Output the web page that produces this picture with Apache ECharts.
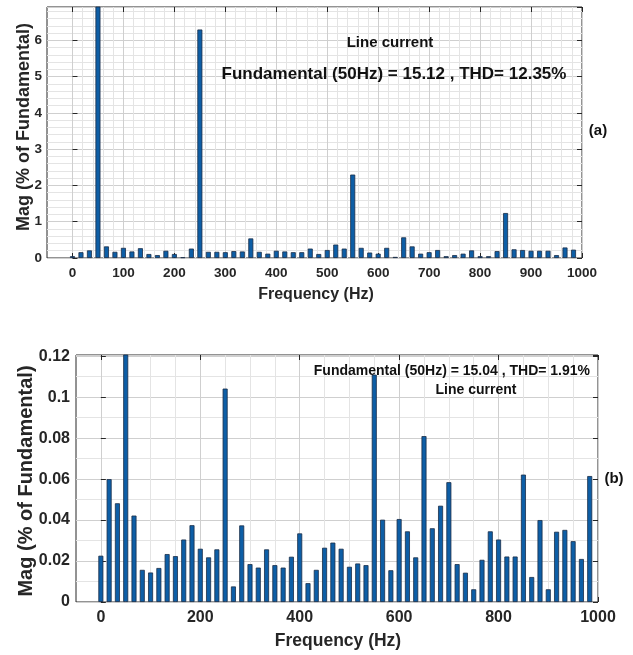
<!DOCTYPE html>
<html>
<head>
<meta charset="utf-8">
<script src="https://cdn.jsdelivr.net/npm/echarts@6/dist/echarts.min.js"></script>
<style>
html,body{margin:0;padding:0;background:#fff;}
#c{width:633px;height:655px;}
</style>
</head>
<body>
<div id="c"></div>
<script>
// Frequency bins (Hz) – 50/3 Hz resolution
var freqs = [0, 16.67, 33.33, 50, 66.67, 83.33, 100, 116.67, 133.33, 150,
  166.67, 183.33, 200, 216.67, 233.33, 250, 266.67, 283.33, 300, 316.67,
  333.33, 350, 366.67, 383.33, 400, 416.67, 433.33, 450, 466.67, 483.33,
  500, 516.67, 533.33, 550, 566.67, 583.33, 600, 616.67, 633.33, 650,
  666.67, 683.33, 700, 716.67, 733.33, 750, 766.67, 783.33, 800, 816.67,
  833.33, 850, 866.67, 883.33, 900, 916.67, 933.33, 950, 966.67, 983.33];

// (a) magnitudes, % of fundamental
var magA = [0.05, 0.16, 0.21, 100, 0.32, 0.17, 0.28, 0.18, 0.27, 0.11,
  0.08, 0.20, 0.11, 0.02, 0.26, 6.30, 0.17, 0.17, 0.16, 0.19,
  0.18, 0.54, 0.17, 0.12, 0.20, 0.18, 0.16, 0.16, 0.26, 0.11,
  0.22, 0.37, 0.26, 2.30, 0.28, 0.15, 0.12, 0.28, 0.03, 0.57,
  0.32, 0.12, 0.16, 0.22, 0.05, 0.08, 0.12, 0.21, 0.05, 0.05,
  0.19, 1.24, 0.24, 0.22, 0.20, 0.20, 0.20, 0.08, 0.29, 0.23];

// (b) magnitudes, % of fundamental
var magB = [0.0226, 0.0600, 0.0482, 100, 0.0422, 0.0157, 0.0144, 0.0166, 0.0234, 0.0224,
  0.0305, 0.0375, 0.0260, 0.0218, 0.0257, 0.1042, 0.0076, 0.0374, 0.0185, 0.0168,
  0.0257, 0.0180, 0.0168, 0.0221, 0.0335, 0.0092, 0.0157, 0.0265, 0.0290, 0.0260,
  0.0172, 0.0188, 0.0180, 0.1110, 0.0402, 0.0155, 0.0405, 0.0345, 0.0218, 0.0810,
  0.0360, 0.0470, 0.0585, 0.0185, 0.0143, 0.0062, 0.0206, 0.0345, 0.0305, 0.0222,
  0.0222, 0.0622, 0.0122, 0.0400, 0.0062, 0.0343, 0.0352, 0.0297, 0.0210, 0.0615];

var xTicksA = {min: 0, max: 1000, interval: 100};
var xTicksB = {min: 0, max: 1000, interval: 200};
var yA = {min: 0, max: 6.92, interval: 1};
var yB = {min: 0, max: 0.1206, interval: 0.02};

var FONT = '"Liberation Sans", Arial, sans-serif';
var TXT = '#262626';
var BAR = '#0d5ea6';
var EDGE = '#1a2d47';
var MAJ = '#cfcfcf';
var MIN = '#e4e4e4';

function pairs(v){ return freqs.map(function(f,i){ return [f, v[i]]; }); }
function plain(v){ return String(Math.round(v * 1000) / 1000); }

// grid geometry
var gA = {left: 47, top: 7, right: 51, height: 251};
var wA = 633 - gA.left - gA.right;
var gB = {left: 76, top: 355, right: 35, height: 247};
var wB = 633 - gB.left - gB.right;
var offA = wA * 50 / 1050, offB = wB * 50 / 1050;

var chart = echarts.init(document.getElementById('c'), null, {renderer: 'canvas'});

function yAxisMain(grid, y, fs, minorN, margin){
  return {type: 'value', gridIndex: grid, min: y.min, max: y.max, interval: y.interval,
    axisLine: {show: false},
    axisTick: {show: true, inside: true, length: 5, lineStyle: {color: TXT}},
    axisLabel: {show: true, color: TXT, fontFamily: FONT, fontWeight: 'bold', fontSize: fs, margin: margin, showMaxLabel: false, formatter: plain},
    splitLine: {show: true, lineStyle: {color: MAJ, width: 1}},
    minorTick: {show: false, splitNumber: minorN},
    minorSplitLine: {show: true, lineStyle: {color: MIN, width: 1}}};
}
function yAxisRight(grid, y){
  return {type: 'value', gridIndex: grid, position: 'right', min: y.min, max: y.max, interval: y.interval,
    axisLine: {show: false}, axisLabel: {show: false}, splitLine: {show: false},
    axisTick: {show: true, inside: true, length: 5, lineStyle: {color: TXT}}};
}
function xAxisHidden(grid){
  return {type: 'value', gridIndex: grid, min: -50, max: 1000, show: false};
}
function xAxisMain(grid, t, fs, minorN, margin){
  return {type: 'value', gridIndex: grid, position: 'bottom', min: t.min, max: t.max, interval: t.interval,
    axisLine: {show: false},
    axisTick: {show: true, inside: true, length: 5, lineStyle: {color: TXT}},
    axisLabel: {color: TXT, fontFamily: FONT, fontWeight: 'bold', fontSize: fs, margin: margin, formatter: plain},
    splitLine: {show: true, lineStyle: {color: MAJ, width: 1}},
    minorTick: {show: false, splitNumber: minorN},
    minorSplitLine: {show: true, lineStyle: {color: MIN, width: 1}}};
}
function xAxisTop(grid, t){
  return {type: 'value', gridIndex: grid, position: 'top', min: t.min, max: t.max, interval: t.interval,
    axisLine: {show: false}, axisLabel: {show: false}, splitLine: {show: false},
    axisTick: {show: true, inside: true, length: 5, lineStyle: {color: TXT}}};
}

var option = {
  animation: false,
  backgroundColor: '#fff',
  grid: [
    {left: gA.left, top: gA.top, right: gA.right, height: gA.height, show: true, borderColor: TXT, borderWidth: 1, backgroundColor: 'transparent'},
    {left: gA.left + offA, top: gA.top, right: gA.right, height: gA.height},
    {left: gB.left, top: gB.top, right: gB.right, height: gB.height, show: true, borderColor: TXT, borderWidth: 1, backgroundColor: 'transparent'},
    {left: gB.left + offB, top: gB.top, right: gB.right, height: gB.height}
  ],
  xAxis: [
    xAxisHidden(0),
    xAxisMain(1, xTicksA, 13.5, 5, 8),
    xAxisTop(1, xTicksA),
    xAxisHidden(2),
    xAxisMain(3, xTicksB, 16, 4, 8),
    xAxisTop(3, xTicksB)
  ],
  yAxis: [
    yAxisMain(0, yA, 13.5, 5, 5),
    yAxisRight(0, yA),
    {type: 'value', gridIndex: 1, min: yA.min, max: yA.max, show: false},
    yAxisMain(2, yB, 16, 2, 6),
    yAxisRight(2, yB),
    {type: 'value', gridIndex: 3, min: yB.min, max: yB.max, show: false}
  ],
  series: [
    {type: 'bar', xAxisIndex: 0, yAxisIndex: 0, data: pairs(magA), barWidth: 5, clip: true,
      itemStyle: {color: BAR, borderColor: EDGE, borderWidth: 0.8}, z: 5},
    {type: 'bar', xAxisIndex: 3, yAxisIndex: 3, data: pairs(magB), barWidth: 5, clip: true,
      itemStyle: {color: BAR, borderColor: EDGE, borderWidth: 0.8}, z: 5}
  ],
  graphic: {
    elements: [
      {type: 'text', z: 100, x: 390, y: 43, style: {text: 'Line current', font: 'bold 15px ' + FONT, fill: '#111', align: 'center', verticalAlign: 'middle'}},
      {type: 'text', z: 100, x: 394, y: 74, style: {text: 'Fundamental (50Hz) = 15.12 , THD= 12.35%', font: 'bold 17px ' + FONT, fill: '#111', align: 'center', verticalAlign: 'middle'}},
      {type: 'text', z: 100, x: 598, y: 131, style: {text: '(a)', font: 'bold 15px ' + FONT, fill: '#111', align: 'center', verticalAlign: 'middle'}},
      {type: 'text', z: 100, x: 316, y: 295, style: {text: 'Frequency (Hz)', font: 'bold 16px ' + FONT, fill: TXT, align: 'center', verticalAlign: 'middle'}},
      {type: 'text', z: 100, x: 24, y: 127, rotation: Math.PI / 2, style: {text: 'Mag (% of Fundamental)', font: 'bold 18px ' + FONT, fill: TXT, align: 'center', verticalAlign: 'middle'}},
      {type: 'text', z: 100, x: 590, y: 371, style: {text: 'Fundamental (50Hz) = 15.04 , THD= 1.91%', font: 'bold 14px ' + FONT, fill: '#111', align: 'right', verticalAlign: 'middle'}},
      {type: 'text', z: 100, x: 476, y: 390, style: {text: 'Line current', font: 'bold 14px ' + FONT, fill: '#111', align: 'center', verticalAlign: 'middle'}},
      {type: 'text', z: 100, x: 614, y: 479, style: {text: '(b)', font: 'bold 15px ' + FONT, fill: '#111', align: 'center', verticalAlign: 'middle'}},
      {type: 'text', z: 100, x: 338, y: 641, style: {text: 'Frequency (Hz)', font: 'bold 17.5px ' + FONT, fill: TXT, align: 'center', verticalAlign: 'middle'}},
      {type: 'text', z: 100, x: 26, y: 481, rotation: Math.PI / 2, style: {text: 'Mag (% of Fundamental)', font: 'bold 20px ' + FONT, fill: TXT, align: 'center', verticalAlign: 'middle'}}
    ]
  }
};
chart.setOption(option);
</script>
</body>
</html>
